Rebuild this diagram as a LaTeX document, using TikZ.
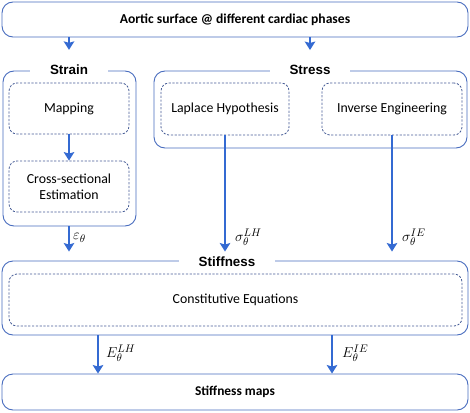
\documentclass[tikz,border=0pt]{standalone}
\usepackage{fontspec}
\setmainfont{Carlito}
\newfontfamily\titlefont{Liberation Sans}
\usetikzlibrary{arrows.meta}
\definecolor{boxblue}{RGB}{72,108,190}
\definecolor{arrblue}{RGB}{52,106,210}
\definecolor{dashblue}{RGB}{70,92,150}
\tikzset{
  solidbox/.style={draw=boxblue, line width=0.9pt, rounded corners=11pt, inner sep=0pt},
  dashbox/.style={draw=dashblue, line width=0.8pt, dash pattern=on 2.2pt off 1.6pt, rounded corners=8pt, inner sep=0pt, font=\fontsize{13.8}{16}\selectfont, align=center},
  grouptitle/.style={fill=white, inner xsep=20pt, inner ysep=2pt, font=\titlefont\bfseries\fontsize{13.4}{15}\selectfont},
  arr/.style={draw=arrblue, line width=1.8pt, -{Stealth[length=8.5pt,width=10.5pt,inset=1.5pt]}},
  lbl/.style={inner sep=0pt, anchor=west, font=\fontsize{15}{17}\selectfont}
}
\begin{document}
\begin{tikzpicture}[x=1pt,y=-1pt]
\useasboundingbox (0,0) rectangle (470,412);
% top
\node[solidbox, minimum width=466pt, minimum height=35pt, font=\bfseries\fontsize{13.6}{16}\selectfont] (top) at (235,19.5) {Aortic surface @ different cardiac phases};
% strain group
\node[solidbox, minimum width=133pt, minimum height=155pt] (strain) at (69.5,148.5) {};
\node[grouptitle] (straint) at (69,70) {Strain};
\node[dashbox, minimum width=120pt, minimum height=51pt] (map) at (69,108.5) {Mapping};
\node[dashbox, minimum width=120pt, minimum height=51pt] (cross) at (69,186.5) {Cross-sectional\\Estimation};
% stress group
\node[solidbox, minimum width=313pt, minimum height=77pt] (stress) at (310.5,109.5) {};
\node[grouptitle] (stresst) at (310,70) {Stress};
\node[dashbox, minimum width=128pt, minimum height=52pt] (lap) at (225,109) {Laplace Hypothesis};
\node[dashbox, minimum width=140pt, minimum height=52pt] (inv) at (392,109) {Inverse Engineering};
% stiffness group
\node[solidbox, minimum width=466pt, minimum height=74pt] (stiff) at (235,298) {};
\node[grouptitle] (stifft) at (227,262) {Stiffness};
\node[dashbox, minimum width=453pt, minimum height=52pt] (const) at (235.5,300) {Constitutive Equations};
% maps
\node[solidbox, minimum width=466pt, minimum height=36pt, font=\bfseries\fontsize{13.4}{16}\selectfont] (maps) at (235,392) {Stiffness maps};
% arrows
\draw[arr, shorten >=13pt] (top.south -| straint) -- (straint.north);
\draw[arr, shorten >=13pt] (top.south -| stresst) -- (stresst.north);
\draw[arr] (map) -- (cross);
\draw[arr, shorten >=9pt] (strain.south -| cross) -- (stiff.north -| cross);
\draw[arr, shorten >=9pt] (lap.south) -- (stiff.north -| lap.south);
\draw[arr, shorten >=9pt] (inv.south) -- (stiff.north -| inv.south);
\coordinate (e1) at (98,335);
\coordinate (e2) at (332,335);
\draw[arr] (e1) -- (maps.north -| e1);
\draw[arr] (e2) -- (maps.north -| e2);
% labels
\node[lbl] (leps) at (73,238) {$\varepsilon_\theta$};
\node[lbl] (lslh) at (235,237) {$\sigma_\theta^{LH}$};
\node[lbl] (lsie) at (402,237) {$\sigma_\theta^{IE}$};
\node[lbl] (lelh) at (106,353) {$E_\theta^{LH}$};
\node[lbl] (leie) at (342,353) {$E_\theta^{IE}$};
\end{tikzpicture}
\end{document}
